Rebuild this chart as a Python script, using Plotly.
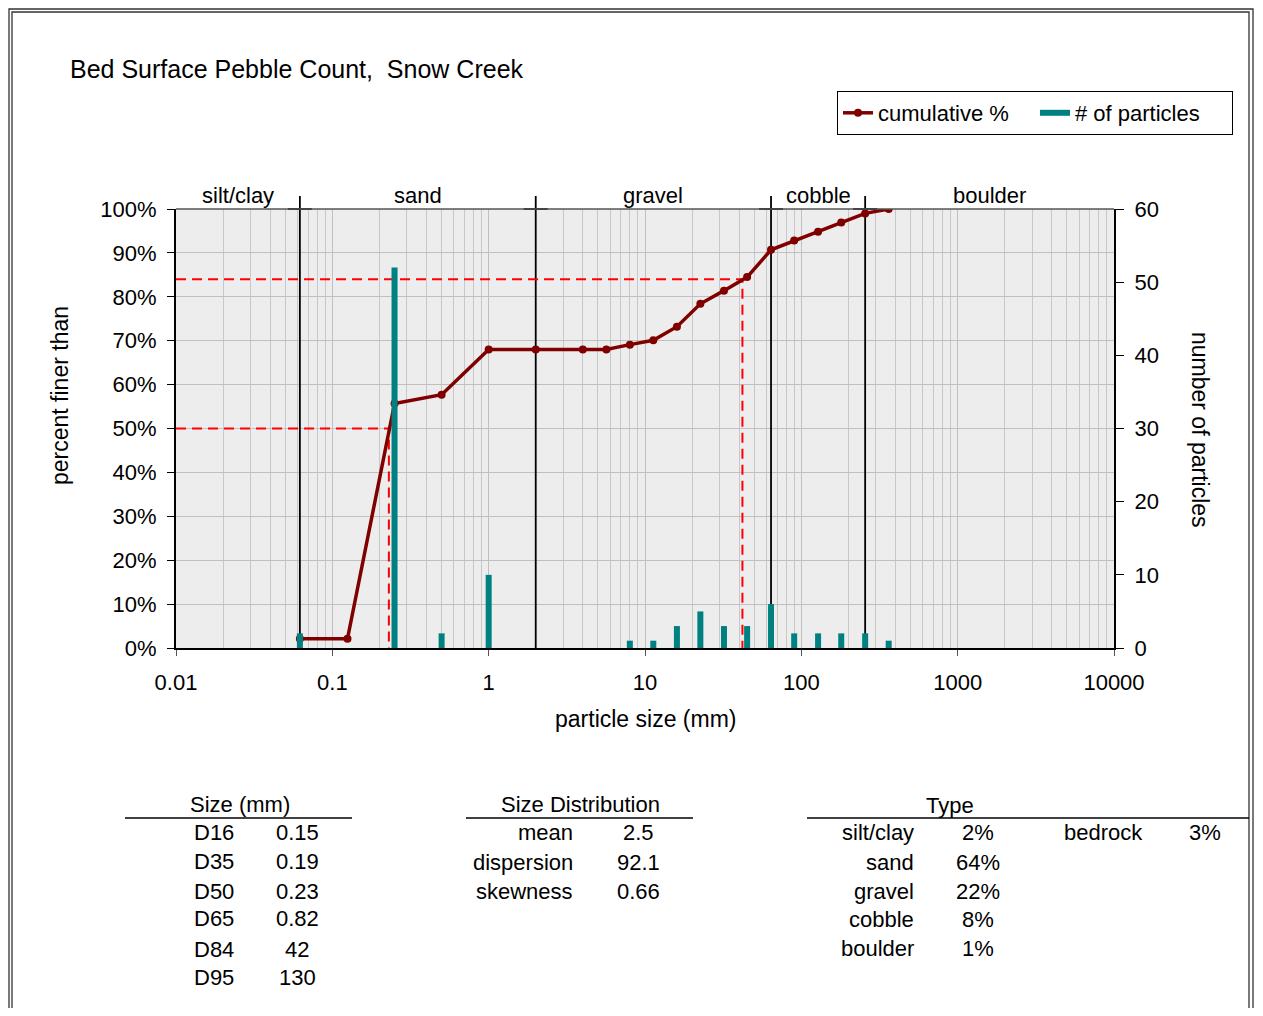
import numpy as np
import plotly.graph_objects as go

# particle size classes (mm) and counts
sizes = [0.062, 0.125, 0.25, 0.5, 1, 2, 4, 5.66, 8, 11.3, 16, 22.6, 32, 45, 64, 90, 128, 180, 256, 362]
cum_pct = [2.1, 2.1, 55.7, 57.7, 68.0, 68.0, 68.0, 68.0, 69.1, 70.1, 73.2, 78.4, 81.4, 84.5,
           90.7, 92.8, 94.8, 96.9, 99.0, 100.0]
count_sizes = [0.062, 0.25, 0.5, 1, 8, 11.3, 16, 22.6, 32, 45, 64, 90, 128, 180, 256, 362]
counts = [2, 52, 2, 10, 1, 1, 3, 5, 3, 3, 6, 2, 2, 2, 2, 1]

# size class boundaries and labels
class_bounds = [0.01, 0.062, 2, 64, 256, 10000]
class_names = ['silt/clay', 'sand', 'gravel', 'cobble', 'boulder']

d50, d84 = 0.23, 42

size_rows = ['D16', 'D35', 'D50', 'D65', 'D84', 'D95']
size_vals = ['0.15', '0.19', '0.23', '0.82', '42', '130']
dist_rows = ['mean', 'dispersion', 'skewness']
dist_vals = ['2.5', '92.1', '0.66']
type_rows = ['silt/clay', 'sand', 'gravel', 'cobble', 'boulder']
type_vals = ['2%', '64%', '22%', '8%', '1%']

FONT = 'Liberation Sans, Arial, sans-serif'
# page sits 8px in from the window edge (body margin); keep it inside the view
OFF = 8
W, H = 1263 - 2 * OFF, 1016 - 2 * OFF
PL, PR, PT, PB = 176, 1114, 209, 648  # plot area in window pixels


def px_x(p):
    return (p - PL) / (PR - PL)


def px_y(p):
    return (PB - p) / (PB - PT)


def log_paper(v):
    return (np.log10(v) + 2) / 6


fig = go.Figure()

# class boundary lines (black)
bx, by = [], []
for b in class_bounds[1:-1]:
    bx += [b, b, None]
    by += [0, 100, None]
fig.add_trace(go.Scatter(x=bx, y=by, mode='lines', line=dict(color='black', width=1.8),
                         showlegend=False, hoverinfo='skip'))

# D50 / D84 dashed guides
gx, gy = [], []
for d, p in [(d50, 50), (d84, 84)]:
    gx += [0.01, d, d, None]
    gy += [p, p, 0, None]
fig.add_trace(go.Scatter(x=gx, y=gy, mode='lines',
                         line=dict(color='#FF0000', width=2, dash='10px,6px'),
                         showlegend=False, hoverinfo='skip'))

# particle counts as thick vertical sticks
cx, cy = [], []
for s, c in zip(count_sizes, counts):
    cx += [s, s, None]
    cy += [0, c, None]
fig.add_trace(go.Scatter(x=cx, y=cy, yaxis='y2', mode='lines', name='# of particles',
                         line=dict(color='#008080', width=6)))

fig.add_trace(go.Scatter(x=sizes, y=cum_pct, mode='lines+markers', name='cumulative %',
                         line=dict(color='#800000', width=3.5),
                         marker=dict(color='#800000', size=8)))

shapes = []
# extension of boundary lines above the plot + small crosses
for b in class_bounds[1:-1]:
    xp = log_paper(b)
    shapes.append(dict(type='line', xref='paper', yref='paper', x0=xp, x1=xp,
                       y0=1, y1=px_y(196), line=dict(color='black', width=1.8)))
    shapes.append(dict(type='line', xref='paper', yref='paper', x0=xp - 12 / 938, x1=xp + 12 / 938,
                       y0=1, y1=1, line=dict(color='black', width=1.8)))
# top border of plot
shapes.append(dict(type='line', xref='paper', yref='paper', x0=0, x1=1, y0=1, y1=1,
                   line=dict(color='#555555', width=1.5)))
# outer double frame
for x0, y0, x1 in [(9, 9, 1253), (12, 12, 1249)]:
    shapes.append(dict(type='rect', xref='paper', yref='paper', x0=px_x(x0), x1=px_x(x1),
                       y0=px_y(1030), y1=px_y(y0), line=dict(color='#333333', width=1.3)))
# table underlines
for x0, x1 in [(125, 352), (466, 693), (807, 1249)]:
    shapes.append(dict(type='line', xref='paper', yref='paper', x0=px_x(x0), x1=px_x(x1),
                       y0=px_y(818), y1=px_y(818), line=dict(color='black', width=1.5)))

ann = []


def txt(text, x, y, anchor='center', size=22, angle=0):
    ann.append(dict(text=text, xref='paper', yref='paper', x=px_x(x), y=px_y(y),
                    xanchor=anchor, yanchor='middle', showarrow=False, textangle=angle,
                    font=dict(family=FONT, size=size, color='black')))


txt('Bed Surface Pebble Count,  Snow Creek', 68, 69, 'left', 25)
txt('percent finer than', 60, 396, size=23, angle=-90)
txt('number of particles', 1200, 430, size=23, angle=90)
txt('particle size (mm)', 645, 719, size=23)

# class labels centred between boundaries
for i, name in enumerate(class_names):
    mid = np.sqrt(class_bounds[i] * class_bounds[i + 1])
    ann.append(dict(text=name, xref='paper', yref='paper', x=log_paper(mid), y=px_y(195),
                    xanchor='center', yanchor='middle', showarrow=False,
                    font=dict(family=FONT, size=22, color='black')))

# tables
txt('Size (mm)', 240, 804)
for i, (r, v) in enumerate(zip(size_rows, size_vals)):
    ys = [832, 861, 891, 918, 949, 977][i]
    txt(r, 214, ys)
    txt(v, 297, ys)

txt('Size Distribution', 580, 804)
for i, (r, v) in enumerate(zip(dist_rows, dist_vals)):
    ys = [832, 862, 891][i]
    txt(r, 575, ys, 'right')
    txt(v, 638, ys)

txt('Type', 950, 806)
for i, (r, v) in enumerate(zip(type_rows, type_vals)):
    ys = [832, 862, 891, 919, 948][i]
    txt(r, 916, ys, 'right')
    txt(v, 978, ys)
txt('bedrock', 1103, 832)
txt('3%', 1205, 832)

fig.update_layout(
    width=W, height=H, autosize=False,
    margin=dict(l=PL - OFF, r=W + OFF - PR, t=PT - OFF, b=H + OFF - PB, pad=0),
    paper_bgcolor='white', plot_bgcolor='#EDEDED',
    font=dict(family=FONT, size=22, color='black'),
    shapes=shapes, annotations=ann,
    legend=dict(orientation='h', x=px_x(837), y=px_y(91), xanchor='left', yanchor='top',
                bordercolor='black', borderwidth=1, bgcolor='white',
                font=dict(family=FONT, size=22), traceorder='reversed',
                entrywidth=152, entrywidthmode='pixels', tracegroupgap=0),
    xaxis=dict(type='log', range=[-2, 4], showline=True, linecolor='black', linewidth=2,
               tickvals=[0.01, 0.1, 1, 10, 100, 1000, 10000],
               ticktext=['0.01', '0.1', '1', '10', '100', '1000', '10000'],
               ticks='outside', ticklen=6, tickcolor='#555555', ticklabelstandoff=8,
               showgrid=True, gridcolor='#C0C0C0', gridwidth=1,
               minor=dict(dtick='D1', showgrid=True, gridcolor='#C8C8C8', gridwidth=1, ticks=''),
               zeroline=False),
    yaxis=dict(range=[0, 100], dtick=10, ticksuffix='%', showline=True, linecolor='black',
               linewidth=2, ticks='outside', ticklen=7, tickcolor='black', ticklabelstandoff=6,
               showgrid=True, gridcolor='#C0C0C0', zeroline=False),
    yaxis2=dict(range=[0, 60], dtick=10, overlaying='y', side='right', showline=True,
                linecolor='black', linewidth=2, ticks='outside', ticklen=8, tickcolor='black',
                ticklabelstandoff=6, showgrid=False, zeroline=False),
)

fig.write_html("out.html")
